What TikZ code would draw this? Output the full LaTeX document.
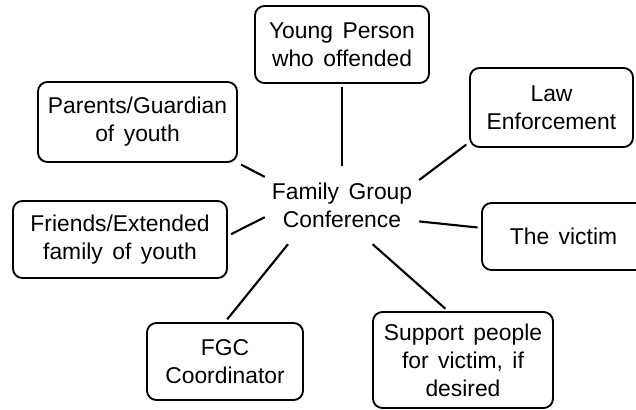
\documentclass[tikz,border=0pt]{standalone}
\usepackage{fontspec}
\setmainfont[WordSpace=1.5]{Liberation Sans}
\begin{document}
\begin{tikzpicture}[x=0.03cm, y=-0.03cm,
    box/.style={draw, rounded corners=8pt, line width=1.6pt, align=center, inner sep=0pt},
    link/.style={line width=1.8pt, shorten >=3pt},
    font=\fontsize{19.5}{23.9}\selectfont]
          \useasboundingbox (0,0) rectangle (636,409);

          \node[inner sep=0pt, align=center, minimum width=4.62cm, minimum height=2.34cm] (hub) at (342,205) {Family Group\\Conference};

          \node[box, minimum width=5.22cm, minimum height=2.31cm] (young)   at (342,44.5)  {Young Person\\who offended};
          \node[box, minimum width=5.97cm, minimum height=2.40cm] (parents) at (137.5,122) {Parents/Guardian\\of youth};
          \node[box, minimum width=6.42cm, minimum height=2.31cm] (friends) at (120,239.5) {Friends/Extended\\family of youth};
          \node[box, minimum width=4.89cm, minimum height=2.37cm] (law)     at (551.5,107.5) {Law\\Enforcement};
          \node[box, minimum width=4.89cm, minimum height=2.01cm] (victim)  at (563.5,236.5) {The victim};
          \node[box, minimum width=4.68cm, minimum height=2.31cm] (fgc)     at (225,361.5) {FGC\\Coordinator};
          \node[box, minimum width=5.40cm, minimum height=2.88cm] (support) at (463,360)   {Support people\\for victim, if\\desired};

          \draw[link] (hub.north) -- (young.south);
          \draw[link] (hub.160)   -- (parents.south east);
          \draw[link] (hub.189)   -- (friends.2);
          \draw[link] (hub.18)    -- (law.203);
          \draw[link] (hub.-12)   -- (victim.174);
          \draw[link] (hub.216)   -- (fgc.north);
          \draw[link] (hub.-52)   -- (support.107);
        \end{tikzpicture}
\end{document}
